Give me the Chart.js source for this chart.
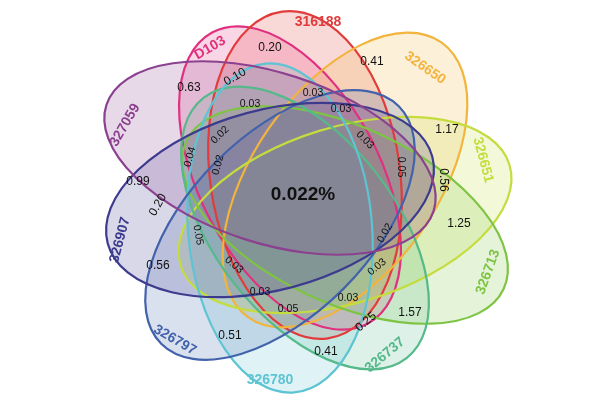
<!DOCTYPE html>
<html>
<head>
<script src="https://cdn.jsdelivr.net/npm/chart.js@4"></script>
<style>body{margin:0;background:#fff}#wrap{width:600px;height:400px}</style>
</head>
<body>
<div id="wrap"><canvas id="c"></canvas></div>
<script>
// sets: name, colour, ellipse centre (chart units), semi axes, rotation (deg)
const setNames = ['D103','316188','326650','326651','326713','326737','326780','326797','326907','327059'];
const setColors = ['#e0307f','#e23b3b','#f2b43c','#c5dc3e','#7ec443','#55b98a','#5dc4d3','#4262ab','#3d3b8e','#8b418f'];
const cx = [290, 305, 345, 345, 345, 305, 280, 280, 270, 270];
const cy = [178, 175, 180, 215, 215, 228, 228, 225, 200, 158];
const ra = [165, 165, 168, 172, 175, 165, 165, 168, 168, 172];
const rb = [90, 95, 92, 88, 88, 90, 92, 90, 90, 85];
const rot = [62, 82, -55, -17, 25, 52, 85, -45, -15, 18];
const nameX = [210, 318, 425, 483, 488, 385, 270, 175, 120, 125];
const nameY = [48, 22, 68, 160, 272, 355, 380, 340, 240, 125];
const nameRot = [-30, 0, 35, 75, -70, -40, 0, 30, -75, -60];

// region values
const vals = ['0.20','0.41','0.63','0.10','0.03','0.03','0.03','0.02','0.03','0.04','0.02','0.05','0.56','1.17','0.99','1.25',
  '0.20','0.05','0.03','0.03','0.05','0.03','0.02','0.03','0.25','1.57','0.51','0.56','0.41'];
const valX = [270,372,189,235,313,250,341,220,365,190,218,401,443,447,138,459,
  158,198,234,260,288,348,385,377,366,410,230,158,326];
const valY = [48,62,88,77,93,104,109,135,140,157,165,167,180,130,182,224,
  205,235,265,292,309,298,233,267,322,313,336,266,352];
const valRot = [0,0,0,-30,0,0,0,-45,45,-75,-75,90,90,0,0,0,
  -60,80,40,0,0,0,-60,-40,-40,0,0,0,0];
const centerText = '0.022%';

const flower = {
  id: 'flower',
  afterDatasetsDraw(chart) {
    const {ctx, scales: {x, y}} = chart;
    const kx = Math.abs(x.getPixelForValue(1) - x.getPixelForValue(0));
    const ky = Math.abs(y.getPixelForValue(1) - y.getPixelForValue(0));
    const path = i => {
      ctx.beginPath();
      ctx.ellipse(x.getPixelForValue(cx[i]), y.getPixelForValue(cy[i]), ra[i]*kx, rb[i]*ky, rot[i]*Math.PI/180, 0, Math.PI*2);
    };
    ctx.save();
    setNames.forEach((n, i) => { path(i); ctx.fillStyle = setColors[i] + '33'; ctx.fill(); });
    setNames.forEach((n, i) => { path(i); ctx.strokeStyle = setColors[i]; ctx.lineWidth = 2.2; ctx.stroke(); });
    const txt = (s, px, py, deg, font, col) => {
      ctx.save();
      ctx.translate(x.getPixelForValue(px), y.getPixelForValue(py));
      ctx.rotate(deg*Math.PI/180);
      ctx.font = font; ctx.fillStyle = col;
      ctx.textAlign = 'center'; ctx.textBaseline = 'middle';
      ctx.fillText(s, 0, 0);
      ctx.restore();
    };
    setNames.forEach((n, i) => txt(n, nameX[i], nameY[i], nameRot[i], 'bold 14px "Liberation Sans"', setColors[i]));
    vals.forEach((v, i) => txt(v, valX[i], valY[i], valRot[i], (parseFloat(v) >= 0.1 ? '12px' : '10.5px') + ' "Liberation Sans"', '#111'));
    txt(centerText, 303, 195, 0, 'bold 19px "Liberation Sans"', '#111');
    ctx.restore();
  }
};

new Chart(document.getElementById('c'), {
  type: 'scatter',
  data: { datasets: [{ data: [], pointRadius: 0 }] },
  options: {
    responsive: true, maintainAspectRatio: false, animation: false,
    layout: { padding: 0 },
    plugins: { legend: { display: false }, tooltip: { enabled: false } },
    scales: {
      x: { type: 'linear', min: 0, max: 600, display: false },
      y: { type: 'linear', min: 0, max: 400, reverse: true, display: false }
    }
  },
  plugins: [flower]
});
</script>
</body>
</html>
